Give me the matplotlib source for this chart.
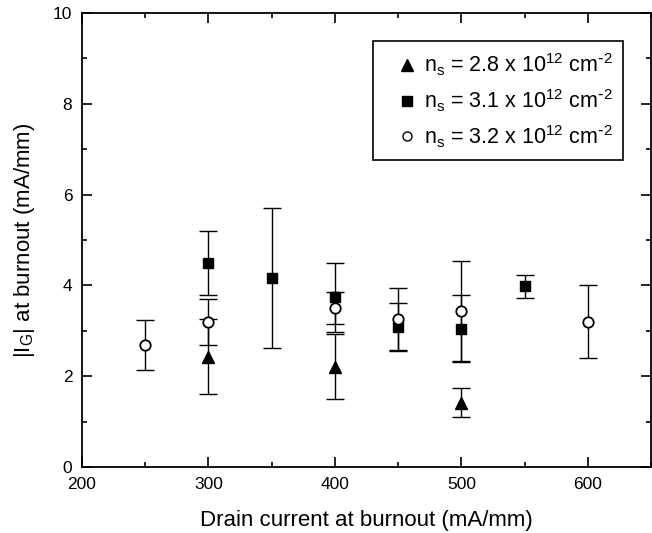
import matplotlib
matplotlib.use("Agg")
import matplotlib.pyplot as plt
from matplotlib.lines import Line2D
from matplotlib.ticker import MultipleLocator

plt.rcParams["font.family"] = ["Liberation Sans", "DejaVu Sans"]
plt.rcParams["mathtext.default"] = "regular"

# Gate current at burnout vs drain current, three sheet densities
tri_x = [300, 400, 500]
tri_y = [2.43, 2.21, 1.42]
tri_err = [0.83, 0.71, 0.31]

sq_x = [300, 350, 400, 450, 500, 550]
sq_y = [4.49, 4.16, 3.74, 3.09, 3.05, 3.98]
sq_err = [0.70, 1.54, 0.76, 0.53, 0.74, 0.26]

circ_x = [250, 300, 400, 450, 500, 600]
circ_y = [2.68, 3.19, 3.50, 3.26, 3.44, 3.20]
circ_err = [0.55, 0.50, 0.36, 0.69, 1.10, 0.80]

labels = [
    r"n$_s$ = 2.8 x 10$^{12}$ cm$^{\text{-}2}$",
    r"n$_s$ = 3.1 x 10$^{12}$ cm$^{\text{-}2}$",
    r"n$_s$ = 3.2 x 10$^{12}$ cm$^{\text{-}2}$",
]


def main():
    fig = plt.figure(figsize=(6.52, 5.33), dpi=100)
    ax = fig.add_axes([0.1258, 0.1238, 0.8727, 0.8518])

    eb = dict(fmt="none", ecolor="black", elinewidth=1.0, capsize=6.5, capthick=1.0)
    ax.errorbar(tri_x, tri_y, yerr=tri_err, **eb)
    ax.errorbar(sq_x, sq_y, yerr=sq_err, **eb)
    ax.errorbar(circ_x, circ_y, yerr=circ_err, **eb)

    ax.plot(tri_x, tri_y, "^", color="black", markersize=9, zorder=3)
    ax.plot(sq_x, sq_y, "s", color="black", markersize=7.5, zorder=3)
    ax.plot(circ_x, circ_y, "o", markerfacecolor="white", markeredgecolor="black",
            markeredgewidth=1.3, markersize=7.5, zorder=4)

    ax.set_xlim(200, 650)
    ax.set_ylim(0, 10)
    ax.xaxis.set_major_locator(MultipleLocator(100))
    ax.xaxis.set_minor_locator(MultipleLocator(50))
    ax.yaxis.set_major_locator(MultipleLocator(2))
    ax.yaxis.set_minor_locator(MultipleLocator(1))
    ax.tick_params(which="both", direction="in", top=True, right=True, width=1.2)
    ax.tick_params(which="major", length=7, labelsize=12.5, pad=7)
    ax.tick_params(which="minor", length=3.5)
    for s in ax.spines.values():
        s.set_linewidth(1.3)

    ax.set_xlabel("Drain current at burnout (mA/mm)", fontsize=16, labelpad=13)
    ax.set_ylabel(r"|I$_G$| at burnout (mA/mm)", fontsize=16)
    ax.yaxis.set_label_coords(-0.080, 0.5)

    handles = [
        Line2D([], [], linestyle="none", marker="^", color="black", markersize=8),
        Line2D([], [], linestyle="none", marker="s", color="black", markersize=6.5),
        Line2D([], [], linestyle="none", marker="o", markerfacecolor="white",
               markeredgecolor="black", markersize=6.5),
    ]
    leg = ax.legend(handles, labels, loc="upper right", bbox_to_anchor=(0.951, 0.938),
                    borderaxespad=0, fontsize=15.5, frameon=True, fancybox=False,
                    framealpha=1, edgecolor="black", labelspacing=0.42,
                    handlelength=2.2, handletextpad=-0.35, borderpad=0.5)
    leg.get_frame().set_linewidth(1.2)

    fig.savefig("out.png", dpi=100)


if __name__ == "__main__":
    main()
